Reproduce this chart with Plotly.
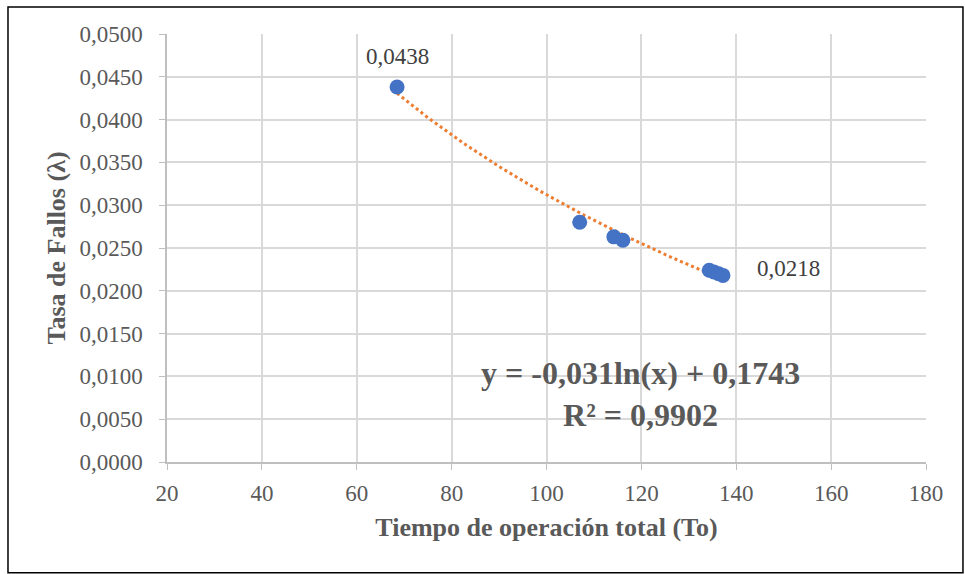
import numpy as np
import plotly.graph_objects as go

# Data
tiempo = [68.5, 107.0, 114.2, 116.1, 134.3, 135.3, 136.3, 137.2]
tasa = [0.0438, 0.0280, 0.0263, 0.0259, 0.0224, 0.0222, 0.0220, 0.0218]
etiquetas = ["0,0438", "", "", "", "", "", "", "0,0218"]
x_ticks = [20, 40, 60, 80, 100, 120, 140, 160, 180]
y_ticks = [0.0, 0.005, 0.01, 0.015, 0.02, 0.025, 0.03, 0.035, 0.04, 0.045, 0.05]
ecuacion = "y = -0,031ln(x) + 0,1743<br>R² = 0,9902"

# Logarithmic trend fitted from the data
coef = np.polyfit(np.log(tiempo), tasa, 1)
xt = np.linspace(min(tiempo), max(tiempo), 100)
yt = coef[0] * np.log(xt) + coef[1]

FONT = "Liberation Serif, Times New Roman, serif"
GRAY = "#595959"

fig = go.Figure()
fig.add_trace(go.Scatter(x=xt, y=yt, mode="lines",
                         line=dict(color="#ED7D31", width=3, dash="dot"),
                         hoverinfo="skip", showlegend=False))
fig.add_trace(go.Scatter(x=tiempo, y=tasa, mode="markers",
                         marker=dict(color="#4472C4", size=15),
                         showlegend=False))

# data labels
fig.add_annotation(x=tiempo[0], y=tasa[0], text=etiquetas[0], showarrow=False,
                   yshift=31, font=dict(family=FONT, size=23, color="#404040"))
fig.add_annotation(x=tiempo[-1], y=tasa[-1], text=etiquetas[-1], showarrow=False,
                   xanchor="left", xshift=32, yshift=7,
                   font=dict(family=FONT, size=23, color="#404040"))
fig.add_annotation(x=119.8, y=0.0079, text="<b>" + ecuacion + "</b>", showarrow=False,
                   align="center", font=dict(family=FONT, size=32, color=GRAY))

# outer frame
fig.add_shape(type="rect", xref="paper", yref="paper", x0=-0.2095, x1=1.0487,
              y0=-0.259, y1=1.063, line=dict(color="black", width=1.5))

fig.update_xaxes(range=[20, 180], tickvals=x_ticks, ticktext=[str(v) for v in x_ticks],
                 showgrid=True, gridcolor="#d9d9d9", gridwidth=1.5,
                 showline=True, linecolor="#bfbfbf", linewidth=1.5,
                 ticks="outside", ticklen=6, tickcolor="#bfbfbf",
                 ticklabelstandoff=4,
                 tickfont=dict(family=FONT, size=23, color=GRAY),
                 title=dict(text="<b>Tiempo de operación total (To)</b>",
                            font=dict(family=FONT, size=26, color=GRAY), standoff=12),
                 zeroline=False)
fig.update_yaxes(range=[0, 0.05], tickvals=y_ticks,
                 ticktext=[f"{v:.4f}".replace(".", ",") for v in y_ticks],
                 showgrid=True, gridcolor="#d9d9d9", gridwidth=1.5,
                 showline=True, linecolor="#bfbfbf", linewidth=1.5,
                 ticks="outside", ticklen=6, tickcolor="#bfbfbf",
                 ticklabelstandoff=12,
                 tickfont=dict(family=FONT, size=23, color=GRAY),
                 title=dict(text="<b>Tasa de Fallos (λ)</b>",
                            font=dict(family=FONT, size=26, color=GRAY), standoff=6),
                 zeroline=False)

fig.update_layout(width=965, height=574, plot_bgcolor="white", paper_bgcolor="white",
                  margin=dict(l=167, r=39, t=34, b=112), showlegend=False)

fig.write_html("out.html")
